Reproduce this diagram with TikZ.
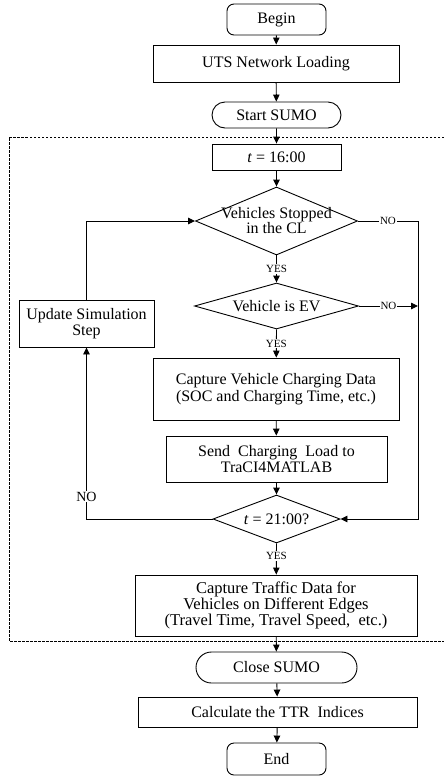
\documentclass[tikz,border=0pt]{standalone}
\usepackage{fontspec}
\setmainfont{Liberation Serif}
\usetikzlibrary{arrows.meta,shapes.geometric,shapes.misc}

\tikzset{
  base/.style={draw, line width=0.9pt, inner sep=0pt, align=center,
               font=\fontsize{16}{16.5}\selectfont},
  procbox/.style={base, rectangle},
  termbox/.style={base, rectangle, rounded corners=7pt},
  pillbox/.style={base, rounded rectangle},
  decision/.style={base, diamond},
  difont/.style={font=\fontsize{16}{15}\selectfont, align=center},
  flow/.style={line width=0.9pt, -{Triangle[length=7pt,width=6.5pt]}},
  tag/.style={fill=white, inner sep=1pt, font=\fontsize{11}{11}\selectfont},
  bigtag/.style={fill=white, inner sep=1pt, font=\fontsize{14}{14}\selectfont},
  frame/.style={line width=0.8pt, dash pattern=on 2.5pt off 1.5pt}
}

\begin{document}
\begin{tikzpicture}[x=1pt, y=-1pt]
  \useasboundingbox (0,0) rectangle (444,777);

  % dashed frame around the simulation loop (open on the right)
  \coordinate (f1) at (444,137);
  \coordinate (f2) at (9,137);
  \coordinate (f3) at (9,641);
  \coordinate (f4) at (444,641);
  \draw[frame] (f1) -- (f2) -- (f3) -- (f4);

  % main column
  \node[termbox, minimum width=99pt, minimum height=31pt] (begin) at (276.5,19.5) {Begin};
  \node[procbox, minimum width=246pt, minimum height=37pt] (uts) at (276,63.5) {UTS Network Loading};
  \node[pillbox, minimum width=129pt, minimum height=26pt] (start) at (276.5,115) {Start SUMO};
  \node[procbox, minimum width=129pt, minimum height=26pt] (t16) at (276.5,157) {\textit{t} = 16:00};
  \node[decision, minimum width=162pt, minimum height=68pt,
        label={[difont]center:Vehicles Stopped\\in the CL}]
        (d1) at (276.5,221) {};
  \node[decision, minimum width=164pt, minimum height=46pt,
        label={[difont]center:Vehicle is EV}]
        (d2) at (276.5,306) {};
  \node[procbox, minimum width=246pt, minimum height=62pt] (cap1) at (276,389)
        {Capture Vehicle Charging Data\\(SOC and Charging Time, etc.)};
  \node[procbox, minimum width=221pt, minimum height=46pt] (send) at (276.5,459)
        {Send~ Charging~ Load to\\TraCI4MATLAB};
  \node[decision, minimum width=127pt, minimum height=48pt,
        label={[difont]center:\textit{t} = 21:00?}]
        (d3) at (276.5,519) {};
  \node[procbox, minimum width=282pt, minimum height=61pt,
        font=\fontsize{16.5}{15}\selectfont] (cap2) at (276,605.5)
        {Capture Traffic Data for\\Vehicles on Different Edges\\(Travel Time, Travel Speed,~ etc.)};
  \node[pillbox, minimum width=161pt, minimum height=31pt] (close) at (276.5,667.5) {Close SUMO};
  \node[procbox, minimum width=279pt, minimum height=30pt] (ttr) at (277.5,712) {Calculate the TTR~ Indices};
  \node[termbox, minimum width=99pt, minimum height=32pt] (end) at (276.5,759) {End};

  % side box of the loop
  \node[procbox, minimum width=135pt, minimum height=47pt] (update) at (86.5,323.5)
        {Update Simulation\\Step};

  % routing points
  \coordinate (r1) at (418,221);
  \coordinate (r2) at (418,306);
  \coordinate (r3) at (418,519);
  \coordinate (l1) at (86.5,519);
  \coordinate (l2) at (86.5,221);

  % straight flow
  \draw[flow] (begin) -- (uts);
  \draw[flow] (uts) -- (start);
  \draw[flow] (start) -- (t16);
  \draw[flow] (t16) -- (d1.north);
  \draw[flow] (d1.south) -- node[tag]{YES} (d2.north);
  \draw[flow] (d2.south) -- node[tag]{YES} (cap1);
  \draw[flow] (cap1) -- (send);
  \draw[flow] (send) -- (d3.north);
  \draw[flow] (d3.south) -- node[tag, pos=0.4]{YES} (cap2);
  \draw[flow] (cap2) -- (close);
  \draw[flow] (close) -- (ttr);
  \draw[flow] (ttr) -- (end);

  % NO branches on the right
  \draw[flow] (d1.east) -- node[tag, pos=0.5]{NO} (r1) -- (r3) -- (d3.east);
  \draw[flow] (d2.east) -- node[tag, pos=0.5]{NO} (r2);

  % loop back on the left
  \draw[flow] (d3.west) -- (l1) -- node[bigtag, pos=0.13]{NO} (update.south);
  \draw[flow] (update.north) -- (l2) -- (d1.west);
\end{tikzpicture}
\end{document}
